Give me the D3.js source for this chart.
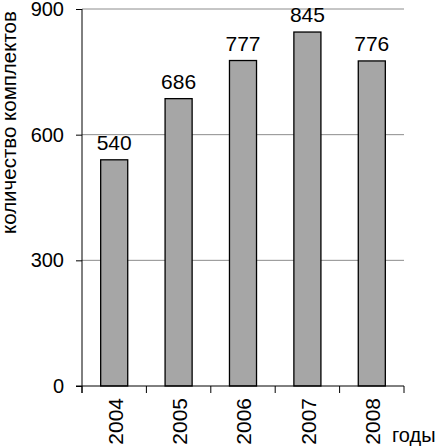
<!DOCTYPE html>
<html>
<head>
<meta charset="utf-8">
<script src="https://cdn.jsdelivr.net/npm/d3@7"></script>
<style>
  body { margin: 0; background: #fff; }
  svg { display: block; font-family: Arial, "Liberation Sans", sans-serif; }
</style>
</head>
<body>
<script>
// chart data
var years = ['2004', '2005', '2006', '2007', '2008']
var counts = [540, 686, 777, 845, 776]
var yTicks = [0, 300, 600, 900]

var width = 439, height = 446
var plotLeft = 82, plotRight = 404, plotTop = 9, plotBottom = 386

var svg = d3.select('body').append('svg')
  .attr('width', width)
  .attr('height', height)

var x = d3.scaleBand()
  .domain(years)
  .range([plotLeft, plotRight])
  .paddingInner(0.58)
  .paddingOuter(0.29)

var y = d3.scaleLinear()
  .domain([0, 900])
  .range([plotBottom, plotTop])

// gridlines
svg.append('g')
  .selectAll('line')
  .data(yTicks.filter(function(d) { return d > 0 }))
  .enter().append('line')
  .attr('x1', plotLeft)
  .attr('x2', plotRight)
  .attr('y1', function(d) { return y(d) })
  .attr('y2', function(d) { return y(d) })
  .style('stroke', '#8c8c8c')
  .style('stroke-width', 1)

// bars
svg.append('g')
  .selectAll('rect')
  .data(counts)
  .enter().append('rect')
  .attr('x', function(d, i) { return x(years[i]) })
  .attr('width', x.bandwidth())
  .attr('y', function(d) { return y(d) })
  .attr('height', function(d) { return plotBottom - y(d) })
  .style('fill', '#a6a6a6')
  .style('stroke', '#000')
  .style('stroke-width', 1.3)

// value labels
svg.append('g')
  .selectAll('text')
  .data(counts)
  .enter().append('text')
  .attr('x', function(d, i) { return x(years[i]) + x.bandwidth() / 2 })
  .attr('y', function(d) { return y(d) - 10 })
  .attr('text-anchor', 'middle')
  .style('font-size', '21px')
  .text(function(d) { return d })

// y axis
var yAxis = svg.append('g')
  .attr('transform', 'translate(' + plotLeft + ',0)')
  .call(d3.axisLeft(y).tickValues(yTicks).tickSize(6).tickPadding(12))
yAxis.select('.domain').attr('d', 'M0,' + (plotBottom + 7) + 'V' + plotTop).style('stroke', '#000')
yAxis.selectAll('.tick line').style('stroke', '#000')
yAxis.selectAll('text')
  .style('font-size', '20px')
  .style('font-family', 'Arial, "Liberation Sans", sans-serif')
  .attr('fill', '#000')

// x axis line and ticks at band boundaries
var step = x.step()
var xBounds = d3.range(0, years.length + 1).map(function(i) { return plotLeft + i * step })
svg.append('line')
  .attr('x1', plotLeft - 6).attr('x2', plotRight)
  .attr('y1', plotBottom).attr('y2', plotBottom)
  .style('stroke', '#000')
svg.append('g')
  .selectAll('line')
  .data(xBounds)
  .enter().append('line')
  .attr('x1', function(d) { return d })
  .attr('x2', function(d) { return d })
  .attr('y1', plotBottom)
  .attr('y2', plotBottom + 7)
  .style('stroke', '#000')

// year labels
svg.append('g')
  .selectAll('text')
  .data(years)
  .enter().append('text')
  .attr('transform', function(d) {
    return 'translate(' + (x(d) + x.bandwidth() / 2 + 1) + ',' + (plotBottom + 12) + ') rotate(-90)'
  })
  .attr('text-anchor', 'end')
  .attr('dy', '0.35em')
  .style('font-size', '21px')
  .text(function(d) { return d })

// axis titles
svg.append('text')
  .attr('transform', 'translate(16,234) rotate(-90)')
  .attr('text-anchor', 'start')
  .style('font-size', '20.5px')
  .text('количество комплектов')

svg.append('text')
  .attr('x', 392)
  .attr('y', 442)
  .style('font-size', '20px')
  .text('годы')
</script>
</body>
</html>
